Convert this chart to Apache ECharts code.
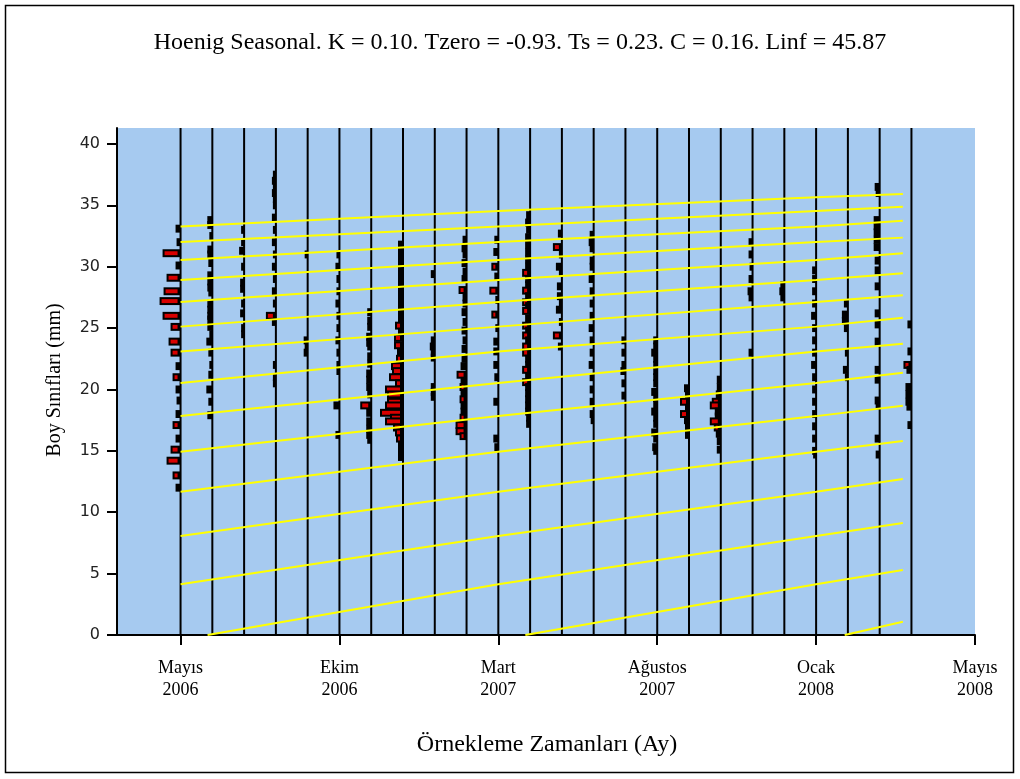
<!DOCTYPE html>
<html>
<head>
<meta charset="utf-8">
<script src="https://cdn.jsdelivr.net/npm/echarts@6/dist/echarts.min.js"></script>
<style>
html,body{margin:0;padding:0;background:#fff;}
#chart{width:1020px;height:779px;}
</style>
</head>
<body>
<div id="chart"></div>
<script>
// ---------------- DATA ----------------
const titleText = 'Hoenig Seasonal. K = 0.10. Tzero = -0.93. Ts = 0.23. C = 0.16. Linf = 45.87';
const yAxisTitle = 'Boy Sınıfları (mm)';
const xAxisTitle = 'Örnekleme Zamanları (Ay)';

// x positions of the tick labels (sample index units) and their labels
const timeTicks = [0, 5, 10, 15, 20, 25];
const timeTickLabels = ['Mayıs\n2006', 'Ekim\n2006', 'Mart\n2007', 'Ağustos\n2007', 'Ocak\n2008', 'Mayıs\n2008'];
const lengthTicks = [0, 5, 10, 15, 20, 25, 30, 35, 40];

// sampling times (one vertical line each)
const sampleTimes = [0, 1, 2, 3, 4, 5, 6, 7, 8, 9, 10, 11, 12, 13, 14, 15, 16, 17, 18, 19, 20, 21, 22, 23];

// length-frequency per sample: [length (mm), frequency]
const s0 = [[33.1,3],[32.0,2],[31.1,16],[30.1,3],[29.1,12],[28.0,15],[27.2,19],[26.0,16],[25.1,8],[23.9,10],[23.0,8],[21.9,3],[21.0,6],[20.0,3],[19.1,2],[18.0,3],[17.1,6],[16.0,3],[15.1,8],[14.2,12],[13.0,6],[12.0,3]];
const s1 = [[33.8,3],[33.4,3],[32.5,1],[31.4,3],[31.0,3],[30.3,2],[29.3,3],[28.8,3],[28.3,3],[27.9,2],[27.0,3],[26.5,3],[26.0,3],[25.7,3],[25.1,3],[24.5,1],[23.9,4],[23.0,2],[22.0,1],[21.2,2],[20.0,4],[19.0,2],[17.9,3]];
const s2 = [[33.0,1],[32.0,1],[31.3,3],[30.0,1],[28.7,2],[28.2,2],[27.0,1],[26.2,2],[25.0,1],[24.5,1]];
const s3 = [[37.5,1],[37.0,2],[36.5,1],[36.0,2],[35.5,1],[35.0,1],[34.0,2],[33.0,1],[32.0,2],[31.0,1],[30.0,2],[29.0,1],[28.0,2],[27.0,1],[26.0,8],[25.5,2],[22.0,1],[21.0,1],[20.5,1]];
const s4 = [[31.0,1],[24.0,2],[23.5,1],[23.0,2]];
const s5 = [[31.0,1],[30.0,2],[29.0,1],[28.0,1],[27.0,2],[26.0,1],[25.0,1],[24.0,2],[23.0,1],[22.0,1],[21.5,1],[18.7,4],[16.3,2]];
const s6 = [[26.3,2],[25.6,2],[25.1,2],[24.3,3],[23.8,3],[23.5,2],[22.7,2],[22.1,2],[21.3,3],[20.8,3],[20.2,3],[19.6,2],[18.7,9],[18.1,3],[17.4,3],[16.8,3],[16.3,3],[15.9,2]];
const s7 = [[31.8,3],[31.3,3],[30.8,3],[30.3,3],[29.8,3],[29.3,3],[28.8,3],[28.3,3],[27.8,3],[27.3,3],[26.8,3],[26.3,3],[25.8,3],[25.2,6],[24.7,3],[24.2,7],[23.6,7],[23.0,4],[22.5,5],[21.9,10],[21.5,9],[21.0,12],[20.5,6],[20.0,16],[19.6,14],[19.0,14],[18.7,16],[18.1,21],[17.7,11],[17.4,16],[16.9,8],[16.5,6],[16.0,5],[15.5,3],[15.0,3],[14.5,3]];
const s8 = [[29.4,2],[24.0,2],[23.5,3],[23.0,2],[22.6,2],[20.2,2],[19.8,2],[19.4,2]];
const s9 = [[32.2,2],[31.5,3],[31.0,2],[30.3,3],[29.6,2],[29.0,3],[28.1,6],[27.5,2],[27.0,2],[26.3,3],[25.5,2],[24.8,3],[24.0,2],[23.3,3],[22.5,3],[21.9,4],[21.2,8],[20.7,4],[20.2,5],[19.7,4],[19.2,5],[18.7,4],[18.2,4],[17.7,5],[17.1,9],[16.6,9],[16.2,5]];
const s10 = [[32.2,2],[31.2,3],[30.0,5],[29.2,2],[28.05,7],[27.3,1],[26.1,5],[25.0,1],[23.9,3],[23.1,3],[22.0,3],[21.0,2],[19.0,3],[16.0,3],[15.3,2]];
const s11 = [[34.2,2],[33.6,3],[33.0,2],[32.4,3],[31.8,3],[31.2,3],[30.6,3],[30.0,3],[29.5,6],[29.0,3],[28.5,3],[28.05,6],[27.6,3],[27.1,6],[26.8,3],[26.4,6],[25.8,3],[25.2,6],[24.8,3],[24.4,6],[24.0,3],[23.5,6],[23.0,6],[22.5,3],[22.0,3],[21.6,6],[21.1,3],[20.6,6],[20.2,3],[19.7,3],[19.2,3],[18.7,3],[18.2,3],[17.7,2],[17.2,2]];
const s12 = [[32.7,2],[31.6,7],[31.0,1],[30.0,4],[29.5,1],[28.4,3],[27.6,3],[27.0,1],[26.5,4],[25.5,1],[24.4,7],[23.5,2]];
const s13 = [[32.6,2],[32.0,3],[31.5,2],[30.5,2],[30.0,2],[29.0,3],[28.0,2],[27.0,2],[26.0,2],[25.0,3],[24.0,2],[23.0,2],[22.0,3],[21.0,2],[20.0,2],[19.0,2],[18.0,2],[17.5,1]];
const s14 = [[24.0,2],[23.0,2],[22.0,2],[21.5,3],[20.5,2],[19.5,2]];
const s15 = [[24.0,2],[23.5,2],[23.0,4],[22.5,2],[22.0,2],[21.5,2],[21.0,2],[20.5,2],[19.8,4],[19.3,2],[18.8,2],[18.2,4],[17.7,2],[17.2,2],[16.5,4],[16.0,2],[15.3,3],[15.0,2]];
const s16 = [[20.1,3],[19.5,2],[19.0,7],[18.5,2],[18.0,7],[17.5,3],[17.0,2],[16.3,2]];
const s17 = [[20.8,2],[20.2,2],[19.6,3],[19.0,7],[18.7,9],[18.2,4],[17.8,4],[17.4,9],[16.9,5],[16.4,3],[15.8,2],[15.1,2]];
const s18 = [[32.0,2],[31.0,2],[30.0,1],[29.0,2],[28.0,3],[27.5,2],[23.0,2]];
const s19 = [[28.5,2],[28.0,3],[27.5,2]];
const s20 = [[29.7,2],[29.0,2],[28.0,2],[27.0,2],[26.0,3],[25.0,2],[24.0,2],[23.0,2],[22.0,3],[21.0,2],[20.0,2],[19.0,2],[18.0,2],[17.0,2],[16.0,2],[15.0,2],[14.7,1]];
const s21 = [[27.0,2],[26.1,4],[25.6,4],[25.0,2],[23.0,1],[21.6,3],[21.0,1]];
const s22 = [[36.5,3],[36.0,2],[33.8,4],[33.3,4],[32.8,4],[32.2,4],[31.6,4],[30.5,3],[29.7,3],[28.4,3],[26.2,3],[25.3,3],[23.9,3],[21.6,3],[20.8,3],[19.1,3],[18.7,2],[16.0,3],[14.7,2]];
const s23 = [[25.3,2],[23.1,2],[22.0,6],[21.6,3],[20.2,4],[19.6,4],[19.0,4],[18.6,3],[17.1,2]];
const samples = [s0,s1,s2,s3,s4,s5,s6,s7,s8,s9,s10,s11,s12,s13,s14,s15,s16,s17,s18,s19,s20,s21,s22,s23];

// growth curves (yellow): lengths read where curves cross t = 0, 10, 20 (each step = next cohort)
const ladderTimes = [0, 10, 20];
const cohortLadder = [4.13, 8.07, 11.66, 14.93, 17.83, 20.52, 23.10, 25.12, 27.12, 28.91, 30.55, 32.02, 33.28, 34.54, 35.65];
const curveEndTime = 22.73;
const curveEndLengths = [1.08, 5.30, 9.12, 12.71, 15.80, 18.68, 21.37, 23.73, 25.85, 27.67, 29.47, 31.10, 32.37, 33.75, 34.89, 35.93];
const recruitTimes = [0.85, 10.85, 20.9];   // times where young cohorts start at 0 mm

// ---------------- CONSTANTS ----------------
const X_MIN = -2, X_MAX = 25, Y_MIN = 0, Y_MAX = 41.3;
const FREQ_TO_T = 1 / 31.8;   // frequency unit -> time units
const BAR_HALF = 0.16;        // half height of the red fill in mm
const BAR_BORDER = 2;         // px of black outline

// ---------------- BUILD ----------------
const barData = [];
samples.forEach((s, i) => s.forEach(([L, f]) => barData.push([sampleTimes[i], L, f])));

const curves = [];
for (let j = 0; j < 13; j++) {
  curves.push([[ladderTimes[0], cohortLadder[j]], [ladderTimes[1], cohortLadder[j + 1]], [ladderTimes[2], cohortLadder[j + 2]], [curveEndTime, curveEndLengths[j + 3]]]);
}
curves.push([[recruitTimes[0], 0], [ladderTimes[1], cohortLadder[0]], [ladderTimes[2], cohortLadder[1]], [curveEndTime, curveEndLengths[2]]]);
curves.push([[recruitTimes[1], 0], [ladderTimes[2], cohortLadder[0]], [curveEndTime, curveEndLengths[1]]]);
curves.push([[recruitTimes[2], 0], [curveEndTime, curveEndLengths[0]]]);

const chart = echarts.init(document.getElementById('chart'), null, {renderer: 'canvas'});

const series = [];
series.push({
  type: 'custom', z: 2, silent: true, animation: false,
  data: sampleTimes.map(t => [t]),
  renderItem: (params, api) => {
    const t = api.value(0);
    const a = api.coord([t, Y_MIN]);
    const b = api.coord([t, Y_MAX]);
    return {type: 'line', shape: {x1: a[0], y1: a[1], x2: b[0], y2: b[1]}, style: {stroke: '#000', lineWidth: 2}};
  }
});
series.push({
  type: 'custom', z: 3, silent: true, animation: false,
  data: barData,
  renderItem: (params, api) => {
    const t = api.value(0), L = api.value(1), f = api.value(2);
    const p1 = api.coord([t - f * FREQ_TO_T, L + BAR_HALF]);
    const p2 = api.coord([t, L - BAR_HALF]);
    const w = p2[0] - p1[0], h = p2[1] - p1[1];
    const B = BAR_BORDER;
    const children = [{type: 'rect', shape: {x: p1[0] - B, y: p1[1] - B, width: w + B, height: h + 2 * B}, style: {fill: '#000'}}];
    const iw = w - 3;
    if (iw >= 1.5) {
      children.push({type: 'rect', shape: {x: p1[0], y: p1[1], width: iw, height: h}, style: {fill: '#D80000'}});
    }
    return {type: 'group', children: children};
  }
});
curves.forEach(c => series.push({
  type: 'line', z: 4, data: c, showSymbol: false, silent: true, animation: false,
  lineStyle: {color: '#FFFF00', width: 2}
}));

chart.setOption({
  animation: false,
  grid: {left: 117, right: 45, top: 128, bottom: 144, show: true, backgroundColor: '#A6CAF0', borderWidth: 0},
  xAxis: {
    type: 'value', min: X_MIN, max: X_MAX,
    axisLine: {onZero: false, lineStyle: {color: '#000', width: 2}},
    axisTick: {customValues: timeTicks, length: 10, lineStyle: {color: '#000', width: 2}},
    axisLabel: {customValues: timeTicks, formatter: v => timeTickLabels[timeTicks.indexOf(v)],
      fontFamily: 'Liberation Serif', fontSize: 18, lineHeight: 22, color: '#000', margin: 22},
    splitLine: {show: false}
  },
  yAxis: {
    type: 'value', min: Y_MIN, max: Y_MAX,
    axisLine: {show: true, onZero: false, lineStyle: {color: '#000', width: 2}},
    axisTick: {show: true, customValues: lengthTicks, length: 10, lineStyle: {color: '#000', width: 2}},
    axisLabel: {customValues: lengthTicks, fontFamily: 'DejaVu Sans', fontSize: 16, color: '#222', margin: 17},
    splitLine: {show: false}
  },
  graphic: [
    {type: 'rect', shape: {x: 5.5, y: 5.5, width: 1008, height: 767}, style: {fill: null, stroke: '#000', lineWidth: 1.5}, silent: true, z: 100},
    {type: 'text', x: 520, y: 43, style: {text: titleText, font: '24px "Liberation Serif"', fill: '#000', align: 'center', verticalAlign: 'middle'}},
    {type: 'text', x: 55, y: 380, rotation: Math.PI / 2, style: {text: yAxisTitle, font: '20px "Liberation Serif"', fill: '#000', align: 'center', verticalAlign: 'middle'}},
    {type: 'text', x: 547, y: 745, style: {text: xAxisTitle, font: '24px "Liberation Serif"', fill: '#000', align: 'center', verticalAlign: 'middle'}}
  ],
  series: series
});
</script>
</body>
</html>
